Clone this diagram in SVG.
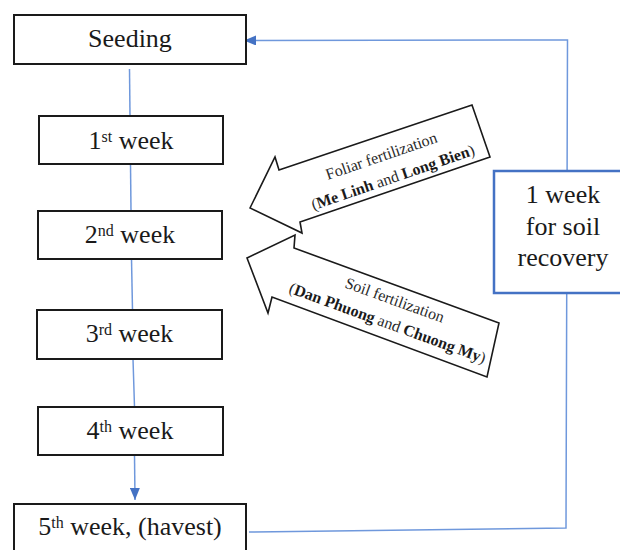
<svg xmlns="http://www.w3.org/2000/svg" width="620" height="550" viewBox="0 0 620 550">
  <style>
    .box { fill: #ffffff; stroke: #1a1a1a; stroke-width: 2; }
    .wk { font-family: "Liberation Serif", "Times New Roman", serif; font-size: 26px; fill: #1a1a1a; text-anchor: middle; }
    .sup { font-size: 16px; }
    .conn { fill: none; stroke: #6F98DC; stroke-width: 1.5; }
    .barrow { fill: #ffffff; stroke: #1a1a1a; stroke-width: 1.6; stroke-linejoin: miter; }
    .atxt { font-family: "Liberation Serif", "Times New Roman", serif; font-size: 16px; fill: #2a2a2a; text-anchor: middle; }
    .b { font-weight: bold; fill: #1a1a1a; }
    .rec { fill: #ffffff; stroke: #4472C4; stroke-width: 2.5; }
  </style>
  <defs>
    <marker id="ah" markerUnits="userSpaceOnUse" markerWidth="12" markerHeight="10" refX="12" refY="5" orient="auto">
      <path d="M0,0 L12,5 L0,10 Z" fill="#4472C4"/>
    </marker>
  </defs>

  <g id="connectors">
    <line class="conn" x1="129.5" y1="69" x2="130" y2="116"/>
    <line class="conn" x1="130.5" y1="164" x2="131" y2="211"/>
    <line class="conn" x1="131.5" y1="259" x2="132.5" y2="310"/>
    <line class="conn" x1="133" y1="359" x2="134.5" y2="407"/>
    <line class="conn" x1="134.5" y1="455" x2="135" y2="500" marker-end="url(#ah)"/>
    <polyline class="conn" points="249,532 566,528 567.5,40 244,40.5" marker-end="url(#ah)"/>
  </g>

  <g id="seeding">
    <rect class="box" x="14" y="15" width="232" height="49"/>
    <text class="wk" x="130" y="47">Seeding</text>
  </g>
  <g id="week1">
    <rect class="box" x="39" y="116" width="184" height="48"/>
    <text class="wk" x="131" y="149">1<tspan class="sup" dy="-7">st</tspan><tspan dy="7"> week</tspan></text>
  </g>
  <g id="week2">
    <rect class="box" x="38" y="211" width="184" height="48"/>
    <text class="wk" x="130" y="243">2<tspan class="sup" dy="-7">nd</tspan><tspan dy="7"> week</tspan></text>
  </g>
  <g id="week3">
    <rect class="box" x="37" y="310" width="185" height="49"/>
    <text class="wk" x="129.5" y="342">3<tspan class="sup" dy="-7">rd</tspan><tspan dy="7"> week</tspan></text>
  </g>
  <g id="week4">
    <rect class="box" x="38" y="407" width="185" height="48"/>
    <text class="wk" x="130" y="439">4<tspan class="sup" dy="-7">th</tspan><tspan dy="7"> week</tspan></text>
  </g>
  <g id="week5">
    <rect class="box" x="14" y="504" width="232" height="60"/>
    <text class="wk" x="130" y="535">5<tspan class="sup" dy="-7">th</tspan><tspan dy="7"> week, (havest)</tspan></text>
  </g>

  <g id="soil-recovery">
    <rect class="rec" x="494" y="171" width="140" height="122"/>
    <text class="wk" x="563" y="203">1 week</text>
    <text class="wk" x="563" y="235">for soil</text>
    <text class="wk" x="563" y="266">recovery</text>
  </g>

  <g id="foliar">
    <polygon class="barrow" points="250,208 275,157 279,170 472,105 490,157 300,222 302,233"/>
    <g transform="translate(383,161) rotate(-19)">
      <text class="atxt" x="0" y="0">Foliar fertilization</text>
      <text class="atxt" x="4" y="24">(<tspan class="b">Me Linh</tspan> and <tspan class="b">Long Bien</tspan>)</text>
    </g>
  </g>
  <g id="soil">
    <polygon class="barrow" points="247,258 295,235 294,248 499,323 487,377 272,297 268,313"/>
    <g transform="translate(393,305) rotate(20)">
      <text class="atxt" x="0" y="0">Soil fertilization</text>
      <text class="atxt" x="1" y="24">(<tspan class="b">Dan Phuong</tspan> and <tspan class="b">Chuong My</tspan>)</text>
    </g>
  </g>
</svg>
